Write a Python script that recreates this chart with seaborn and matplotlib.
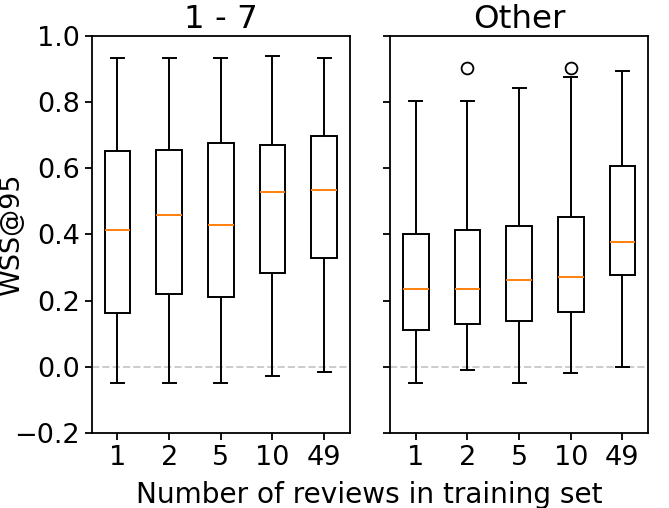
import numpy as np
import pandas as pd
import matplotlib
matplotlib.use("Agg")
import matplotlib.pyplot as plt
import seaborn as sns

# -------------------------------
# Box summaries
# -------------------------------
categories = ["1", "2", "5", "10", "49"]
panels = ["1 - 7", "Other"]

# panel "1 - 7"
lo_17 = [-0.050, -0.050, -0.050, -0.028, -0.016]
q1_17 = [0.161, 0.220, 0.211, 0.284, 0.329]
med_17 = [0.412, 0.460, 0.429, 0.527, 0.533]
q3_17 = [0.653, 0.656, 0.676, 0.671, 0.699]
hi_17 = [0.934, 0.934, 0.935, 0.939, 0.934]
out_17 = [None, None, None, None, None]

# panel "Other"
lo_oth = [-0.050, -0.011, -0.050, -0.018, 0.000]
q1_oth = [0.111, 0.129, 0.138, 0.165, 0.278]
med_oth = [0.234, 0.234, 0.261, 0.270, 0.378]
q3_oth = [0.400, 0.412, 0.426, 0.453, 0.608]
hi_oth = [0.804, 0.804, 0.842, 0.877, 0.895]
out_oth = [None, 0.904, None, 0.904, None]


def expand(panel, lo, q1, med, q3, hi, out):
    # nine points whose quartiles / whiskers reproduce the summary
    rows = []
    for i, cat in enumerate(categories):
        last = hi[i] if out[i] is None else out[i]
        vals = [lo[i], q1[i], q1[i], med[i], med[i], q3[i], q3[i], hi[i], last]
        for v in vals:
            rows.append({"panel": panel, "reviews": cat, "wss": v})
    return rows


df = pd.DataFrame(
    expand(panels[0], lo_17, q1_17, med_17, q3_17, hi_17, out_17)
    + expand(panels[1], lo_oth, q1_oth, med_oth, q3_oth, hi_oth, out_oth)
)

# -------------------------------
# Plot
# -------------------------------
plt.rcParams["font.size"] = 19.5
plt.rcParams["axes.linewidth"] = 1.3

fig, axes = plt.subplots(1, 2, figsize=(6.69, 5.08), dpi=100, sharey=True)
fig.subplots_adjust(left=0.137, right=0.969, top=0.929, bottom=0.148, wspace=0.155)

for ax, panel in zip(axes, panels):
    ax.axhline(0, color="#cccccc", ls="--", lw=1.4, zorder=0)
    sns.boxplot(
        data=df[df["panel"] == panel], x="reviews", y="wss", order=categories,
        ax=ax, color="white", linecolor="black", linewidth=1.4, width=0.5,
        whis=1.5,
        medianprops={"color": "#ff7f0e", "linewidth": 1.4},
        flierprops={"marker": "o", "markerfacecolor": "none",
                    "markeredgecolor": "black", "markersize": 8.5,
                    "markeredgewidth": 1.3},
    )
    ax.set_title(panel, fontsize=23.4)
    ax.set_xlabel("")
    ax.set_xlim(-0.5, 4.5)
    ax.tick_params(width=1.3, length=5)

axes[0].set_ylim(-0.2, 1.0)
axes[0].set_yticks([-0.2, 0.0, 0.2, 0.4, 0.6, 0.8, 1.0])
axes[0].set_ylabel("WSS@95")
axes[0].yaxis.set_label_coords(-0.258, 0.5)
axes[1].set_ylabel("")

# shared x label, centred on the two panels
fig.text(0.552, 0.0098, "Number of reviews in training set",
         ha="center", va="baseline", fontsize=20.2)

fig.savefig("out.png", dpi=100)
